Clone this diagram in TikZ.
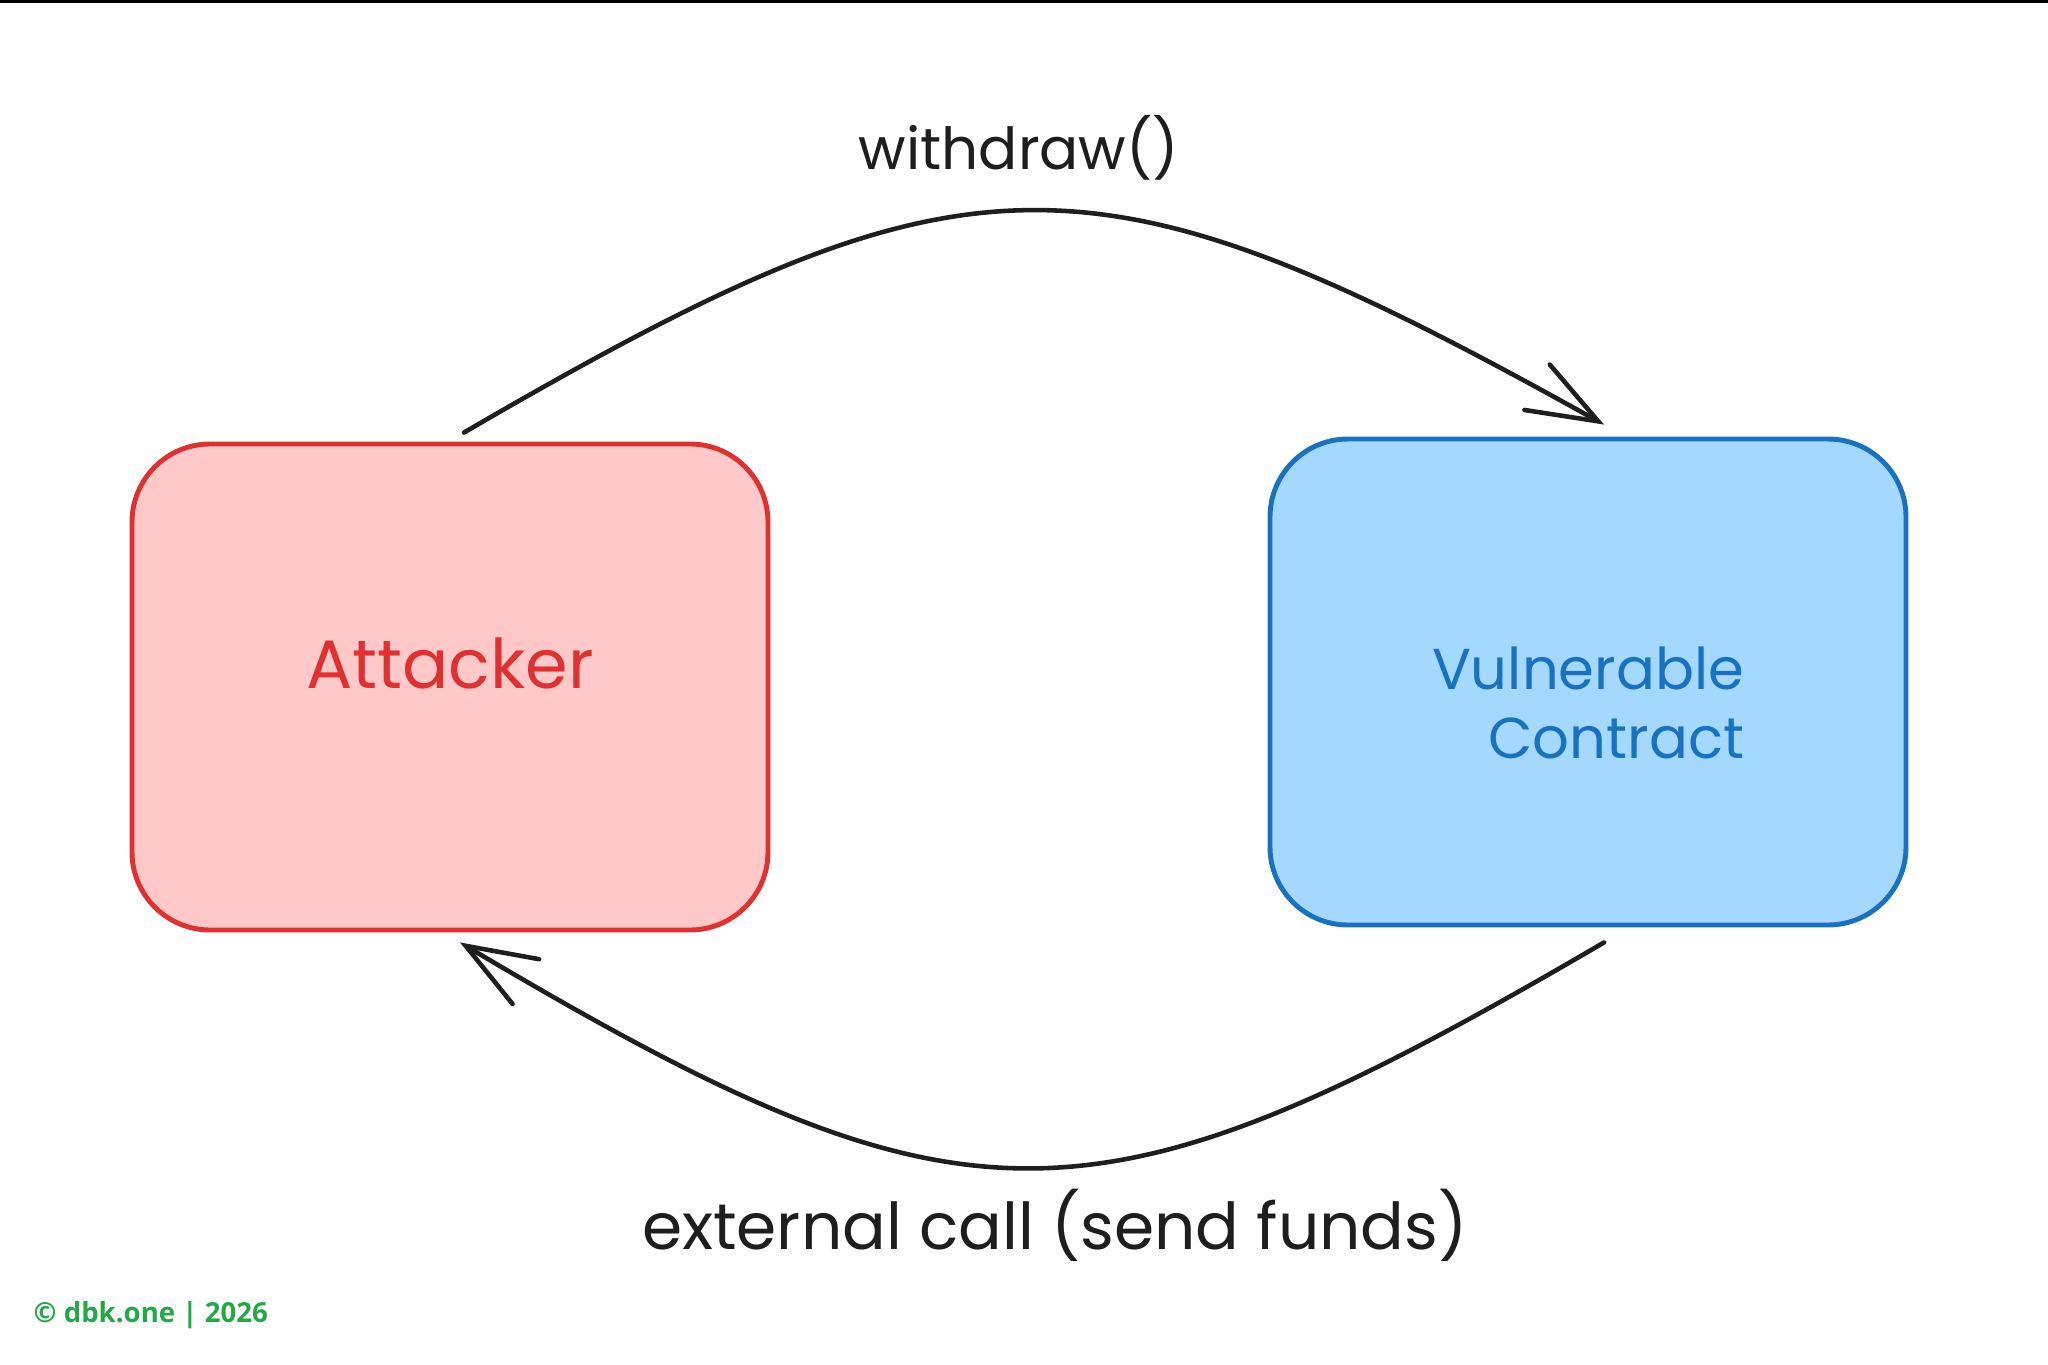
\documentclass[tikz,border=0pt]{standalone}
\usepackage{fontspec}
\usepackage{xcolor}
\setmainfont{Poppins}
\newfontfamily\markfont{Open Sans}
\usetikzlibrary{arrows.meta}

\definecolor{attfill}{HTML}{FFC9C9}
\definecolor{attline}{HTML}{E03131}
\definecolor{vulfill}{HTML}{A5D8FF}
\definecolor{vulline}{HTML}{1971C2}
\definecolor{ink}{HTML}{1E1E1E}
\definecolor{markgreen}{HTML}{22A846}

\tikzset{
  box/.style={rounded corners=0.78cm, line width=1.4pt, minimum width=6.36cm,
    minimum height=4.86cm, inner sep=0pt},
  flow/.style={ink, line width=1.3pt, line cap=round,
    -{Straight Barb[length=0.7cm, width=0.52cm, line cap=round]}},
  lbl/.style={ink}
}

\begin{document}
\begin{tikzpicture}
  \useasboundingbox (0,0) rectangle (20.48,-13.65);
  % top rule
  \fill[black] (0,0) rectangle (20.48,-0.03);

  % the two parties
  \node[box, draw=attline, fill=attfill, text=attline, text depth=0.47cm,
    font=\fontsize{19.5}{20}\selectfont] (att) at (4.50,-6.87) {Attacker};
  \node[box, draw=vulline, fill=vulfill, text=vulline, align=right, text height=1.53cm,
    font=\fontsize{16.4}{19.6}\selectfont] (vul) at (15.88,-6.82)
    {Vulnerable\\ Contract};

  % calls between them
  \draw[flow] ([shift={(0.14,0.09)}]att.north) .. controls (9.70,-1.38) and (10.90,-1.38)
    .. ([shift={(0.16,0.12)}]vul.north);
  \draw[flow] ([shift={(0.16,-0.15)}]vul.south) .. controls (10.90,-12.43) and (9.66,-12.43)
    .. ([shift={(0.10,-0.10)}]att.south);

  \node[lbl, font=\fontsize{16.5}{20}\selectfont] (wd) at (10.19,-1.48) {withdraw()};
  \node[lbl, font=\fontsize{18.4}{20}\selectfont] (ext) at (10.55,-12.25)
    {external call (send funds)};

  \node[markgreen, anchor=west, inner sep=0pt,
    font=\markfont\bfseries\fontsize{7.85}{10}\selectfont] (mark)
    at (0.33,-13.15) {© dbk.one | 2026};
\end{tikzpicture}
\end{document}
